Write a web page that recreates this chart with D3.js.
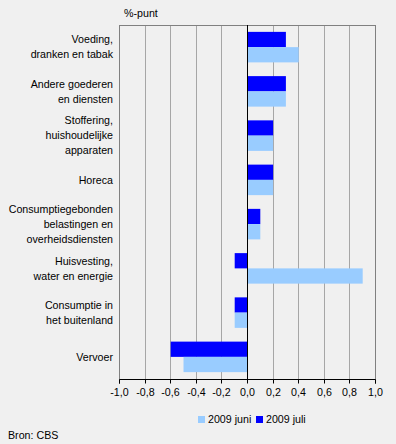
<!DOCTYPE html>
<html>
<head>
<meta charset="utf-8">
<script src="https://cdn.jsdelivr.net/npm/d3@7"></script>
<style>
  html, body { margin: 0; padding: 0; background: #f0f0f0; }
  svg { display: block; font-family: "Liberation Sans", Arial, sans-serif; font-size: 10.67px; }
</style>
</head>
<body>
<div id="chart"></div>
<script>
// categories (label lines) and values in %-punt
var categories = [
    ["Voeding,", "dranken en tabak"],
    ["Andere goederen", "en diensten"],
    ["Stoffering,", "huishoudelijke", "apparaten"],
    ["Horeca"],
    ["Consumptiegebonden", "belastingen en", "overheidsdiensten"],
    ["Huisvesting,", "water en energie"],
    ["Consumptie in", "het buitenland"],
    ["Vervoer"]
];
var juni = [0.4, 0.3, 0.2, 0.2, 0.1, 0.9, -0.1, -0.5];
var juli = [0.3, 0.3, 0.2, 0.2, 0.1, -0.1, -0.1, -0.6];
var xTicks = [-1, -0.8, -0.6, -0.4, -0.2, 0, 0.2, 0.4, 0.6, 0.8, 1];
var seriesNames = ["2009 juni", "2009 juli"];
var colors = {"2009 juni": "#99ccff", "2009 juli": "#0000ff"};

var width = 396, height = 444;
var plotLeft = 119.5, plotRight = 375.5, plotTop = 25, plotBottom = 379;

var svg = d3.select("#chart").append("svg")
    .attr("width", width)
    .attr("height", height);

var x = d3.scaleLinear().domain([-1, 1]).range([plotLeft, plotRight]);
var y = d3.scaleBand().domain(d3.range(categories.length)).range([plotTop, plotBottom]);
// juli on top, juni below within each group
var ySub = d3.scaleBand().domain(["2009 juli", "2009 juni"])
    .range([0, y.bandwidth()]).paddingOuter(0.45);

function px(v) { return Math.floor(x(v)) + 0.5; }

// gridlines
svg.append("g").selectAll("line")
    .data(xTicks.filter(function(d) { return d !== 0; }))
    .enter().append("line")
    .attr("x1", function(d) { return px(d); })
    .attr("x2", function(d) { return px(d); })
    .attr("y1", plotTop)
    .attr("y2", plotBottom)
    .attr("stroke", function(d) { return Math.abs(d) === 1 ? "#808080" : "#a6a6a6"; })
    .attr("stroke-width", 1);

// top border
svg.append("line")
    .attr("x1", px(-1)).attr("x2", px(1))
    .attr("y1", plotTop + 0.5).attr("y2", plotTop + 0.5)
    .attr("stroke", "#808080");

// bars
var rows = categories.map(function(c, i) {
    return [{i: i, s: "2009 juli", v: juli[i]}, {i: i, s: "2009 juni", v: juni[i]}];
});
svg.append("g").selectAll("g")
    .data(rows)
    .enter().append("g")
    .attr("transform", function(d, i) { return "translate(0," + y(i) + ")"; })
    .selectAll("rect")
    .data(function(d) { return d; })
    .enter().append("rect")
    .attr("x", function(d) { return x(Math.min(0, d.v)); })
    .attr("width", function(d) { return Math.abs(x(d.v) - x(0)); })
    .attr("y", function(d) { return ySub(d.s); })
    .attr("height", ySub.bandwidth())
    .attr("fill", function(d) { return colors[d.s]; });

// zero line
svg.append("line")
    .attr("x1", px(0)).attr("x2", px(0))
    .attr("y1", plotTop).attr("y2", plotBottom)
    .attr("stroke", "#000");

// x axis
var xAxis = svg.append("g")
    .attr("transform", "translate(0," + (plotBottom + 0.5) + ")")
    .call(d3.axisBottom(x).tickValues(xTicks).tickSize(4).tickPadding(5)
        .tickFormat(function(d) { return d3.format(".1f")(d).replace("−", "-").replace(".", ","); }));
xAxis.select(".domain").attr("stroke", "#000").attr("d", "M" + px(-1) + ",4V0H" + px(1) + "V4");
xAxis.selectAll(".tick")
    .attr("transform", function(d) { return "translate(" + px(d) + ",0)"; });
xAxis.selectAll(".tick line").attr("stroke", "#000");
xAxis.selectAll(".tick text")
    .attr("fill", "#000")
    .style("font-family", "'Liberation Sans', Arial, sans-serif")
    .style("font-size", "10.67px");

// category labels
var labels = svg.append("g").selectAll("text")
    .data(categories)
    .enter().append("text")
    .attr("text-anchor", "end")
    .attr("fill", "#000")
    .attr("transform", function(d, i) { return "translate(113," + (y(i) + y.bandwidth() / 2) + ")"; });
labels.selectAll("tspan")
    .data(function(d) { return d; })
    .enter().append("tspan")
    .attr("x", 0)
    .attr("y", function(d, j, nodes) { return (j - (nodes.length - 1) / 2) * 15; })
    .attr("dy", "0.35em")
    .text(function(d) { return d; });

// unit label
svg.append("text")
    .attr("x", 124).attr("y", 17)
    .attr("fill", "#000")
    .text("%-punt");

// legend
var legendX = [198, 256];
var legend = svg.append("g").selectAll("g")
    .data(seriesNames)
    .enter().append("g")
    .attr("transform", function(d, i) { return "translate(" + legendX[i] + ",416)"; });
legend.append("rect")
    .attr("width", 7).attr("height", 7)
    .attr("fill", function(d) { return colors[d]; });
legend.append("text")
    .attr("x", 10).attr("y", 3.5).attr("dy", "0.35em")
    .attr("fill", "#000")
    .text(function(d) { return d; });

// source
svg.append("text")
    .attr("x", 8).attr("y", 439)
    .attr("fill", "#000")
    .text("Bron: CBS");
</script>
</body>
</html>
